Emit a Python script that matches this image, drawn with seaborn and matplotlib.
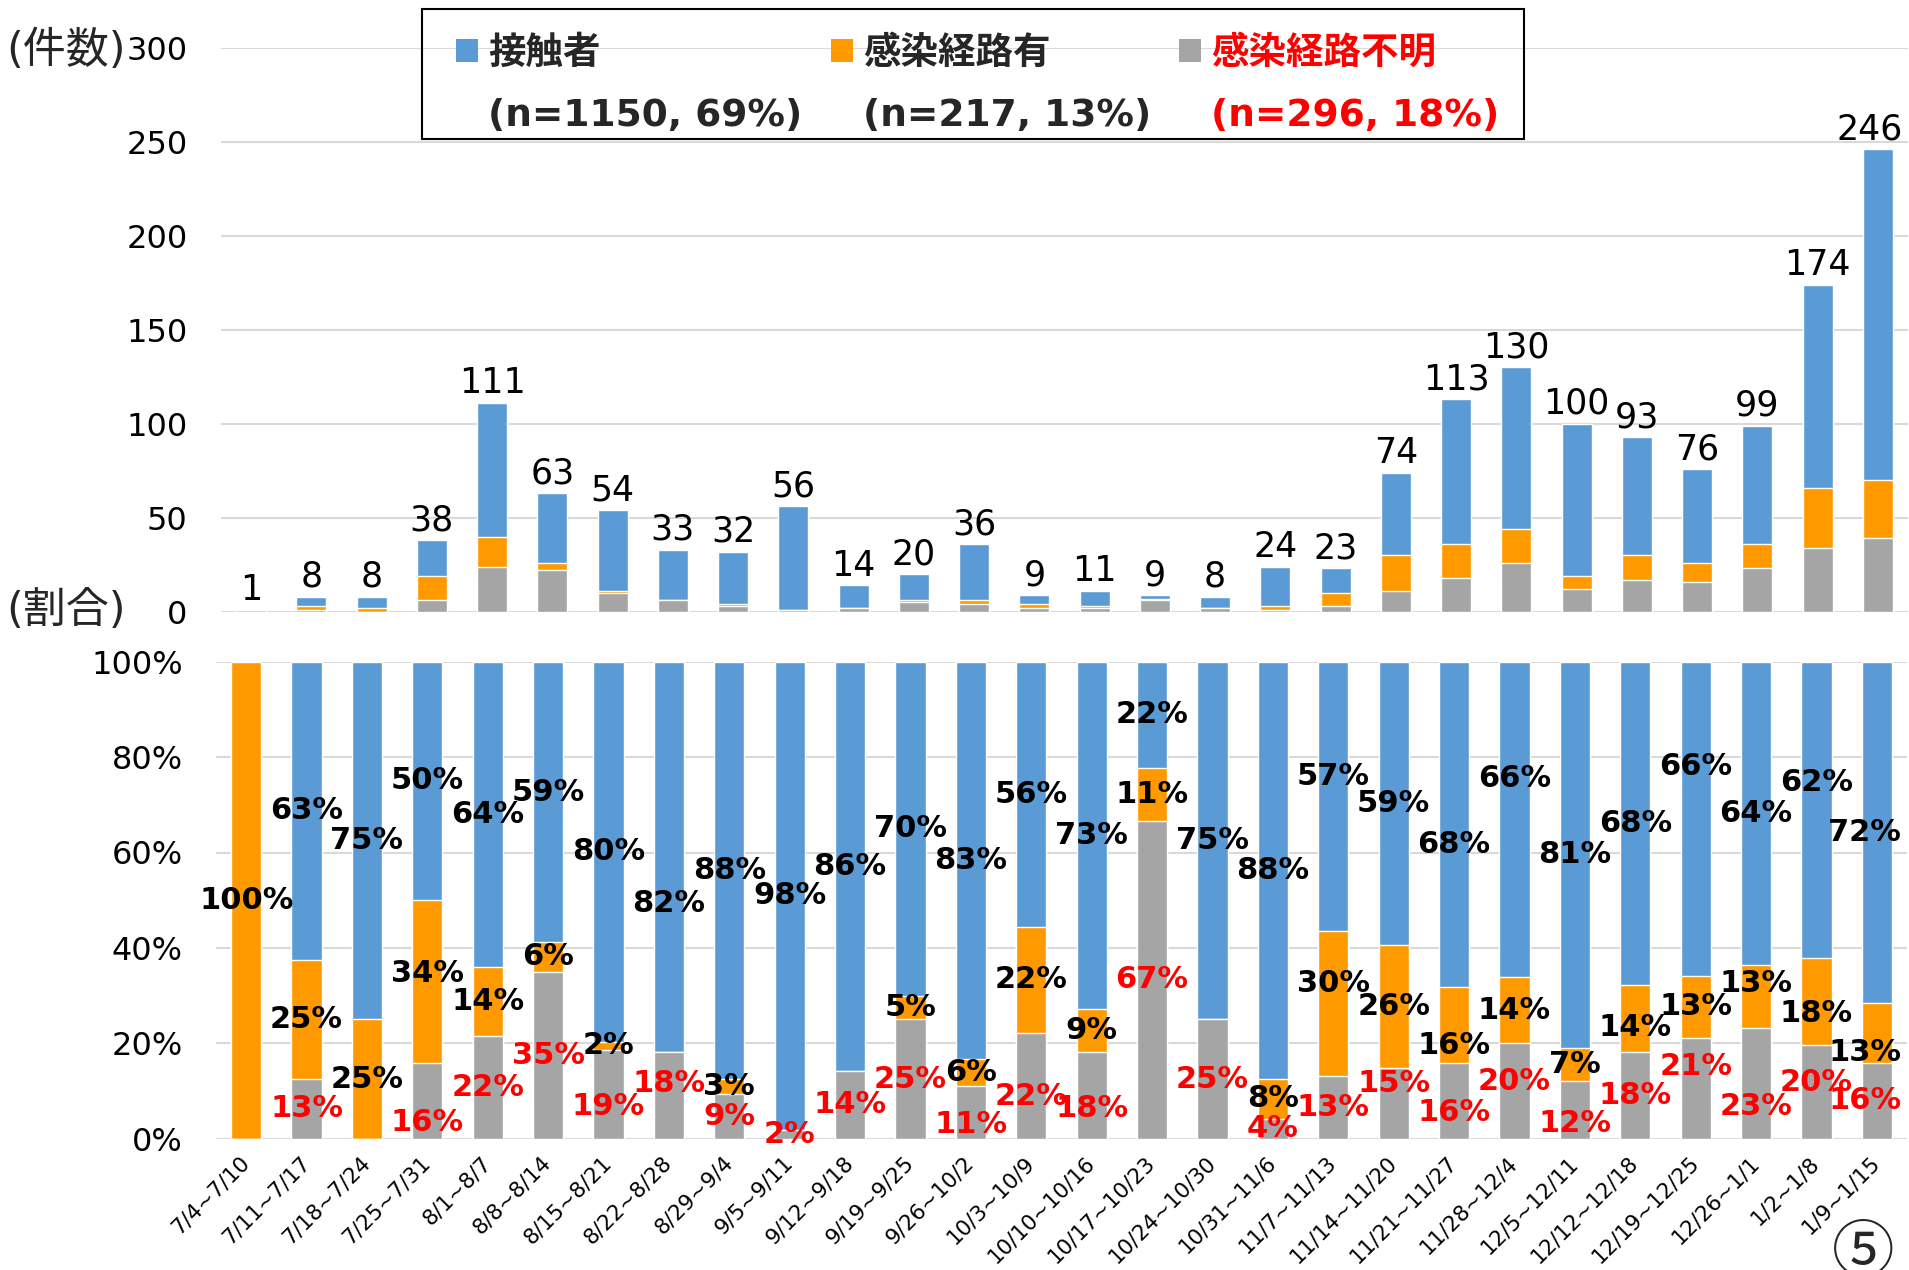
import numpy as np
import pandas as pd
import matplotlib
matplotlib.use("Agg")
import matplotlib.pyplot as plt
import seaborn as sns
from matplotlib.patches import Patch, Rectangle
from matplotlib.ticker import PercentFormatter

# weekly counts by infection route
weeks = ["7/4~7/10", "7/11~7/17", "7/18~7/24", "7/25~7/31", "8/1~8/7", "8/8~8/14",
         "8/15~8/21", "8/22~8/28", "8/29~9/4", "9/5~9/11", "9/12~9/18", "9/19~9/25",
         "9/26~10/2", "10/3~10/9", "10/10~10/16", "10/17~10/23", "10/24~10/30",
         "10/31~11/6", "11/7~11/13", "11/14~11/20", "11/21~11/27", "11/28~12/4",
         "12/5~12/11", "12/12~12/18", "12/19~12/25", "12/26~1/1", "1/2~1/8", "1/9~1/15"]
contact = [0, 5, 6, 19, 71, 37, 43, 27, 28, 55, 12, 14, 30, 5, 8, 2, 6, 21, 13, 44,
           77, 86, 81, 63, 50, 63, 108, 176]
route = [1, 2, 2, 13, 16, 4, 1, 0, 1, 0, 0, 1, 2, 2, 1, 1, 0, 2, 7, 19,
         18, 18, 7, 13, 10, 13, 32, 31]
unknown = [0, 1, 0, 6, 24, 22, 10, 6, 3, 1, 2, 5, 4, 2, 2, 6, 2, 1, 3, 11,
           18, 26, 12, 17, 16, 23, 34, 39]
series = ["接触者", "感染経路有", "感染経路不明"]

blue, orange, gray = "#5B9BD5", "#FF9900", "#A5A5A5"
grid_c = "#D9D9D9"

# hand-moved share labels in the original (week index -> shift in % points)
nudge = {
    "contact": {5: 2, 7: -9.7, 18: 4.2, 20: -4.3, 21: 8.6, 24: 10.9, 26: 5.8},
    "route": {3: 1.7, 18: 4.2, 20: -4.4, 23: -2, 25: 2.7, 26: -2.5, 27: -4},
    "unknown": {3: -4.4, 6: -2.5, 7: 2.4, 12: -2.5, 13: -2.2, 14: -2.7, 19: 4.1,
                20: -2.4, 21: 1.9, 22: -2.9, 24: 4.7, 25: -4.8, 26: 2.1},
}

sns.set_theme(style="white")
plt.rcParams["font.family"] = ["DejaVu Sans", "Noto Sans CJK JP"]

df = pd.DataFrame({"week": weeks, "contact": contact, "route": route, "unknown": unknown})
df["total"] = df.contact + df.route + df.unknown
df["lower"] = df.route + df.unknown
sh = df[["contact", "route", "unknown"]].div(df.total, axis=0)
sh["week"] = df.week
sh["all"] = sh.contact + sh.route + sh.unknown
sh["lower"] = sh.route + sh.unknown

W, H = 1909, 1270
fig = plt.figure(figsize=(W / 100, H / 100), dpi=100)
ax1 = fig.add_axes([221 / W, 1 - 611.7 / H, (1908 - 221) / W, (611.7 - 47.7) / H])
ax2 = fig.add_axes([216 / W, 1 - 1138.7 / H, (1907 - 216) / W, (1138.7 - 661.7) / H])
last = len(weeks) - 1

# ---- top: counts
for col, c in [("total", blue), ("lower", orange), ("unknown", gray)]:
    sns.barplot(data=df, x="week", y=col, color=c, width=0.5, saturation=1,
                errorbar=None, ax=ax1)
tot_labels = ax1.bar_label(ax1.containers[0], labels=[str(v) for v in df.total],
                           padding=2, fontsize=25, color="black")
tot_labels[last].xyann = (-6, 2)   # kept inside the chart area
ax1.set_xlim(-0.5, len(weeks) - 0.5)
ax1.set_ylim(0, 300)
ax1.set_yticks(range(0, 301, 50))
ax1.set_xticks([])
ax1.set_xlabel("")
ax1.set_ylabel("")
ax1.yaxis.grid(True, color=grid_c, linewidth=1.5)
ax1.set_axisbelow(True)
ax1.tick_params(axis="y", length=0, pad=24, labelsize=23, labelcolor="black")
for s in ax1.spines.values():
    s.set_visible(False)

# ---- bottom: shares
for col, c in [("all", blue), ("lower", orange), ("unknown", gray)]:
    sns.barplot(data=sh, x="week", y=col, color=c, width=0.5, saturation=1,
                errorbar=None, ax=ax2)
for i in range(len(weeks)):
    u, r, k = sh.unknown[i], sh.route[i], sh.contact[i]
    parts = [("unknown", u, u / 2, "red"), ("route", r, u + r / 2, "black"),
             ("contact", k, u + r + k / 2, "black")]
    xi = i - 0.2 if i == last else i
    for key, val, mid, tc in parts:
        if val > 0:
            y = mid + nudge[key].get(i, 0) / 100
            ax2.text(xi, y, f"{int(np.floor(val * 100 + 0.5))}%", ha="center", va="center",
                     fontsize=22, fontweight="bold", color=tc)
ax2.set_xlim(-0.5, len(weeks) - 0.5)
ax2.set_ylim(0, 1)
ax2.set_yticks(np.linspace(0, 1, 6))
ax2.yaxis.set_major_formatter(PercentFormatter(1.0, decimals=0))
ax2.set_xticks(range(len(weeks)))
ax2.set_xticklabels(weeks, rotation=45, ha="right", va="center", rotation_mode="anchor",
                    fontsize=15.5)
ax2.set_xlabel("")
ax2.set_ylabel("")
ax2.yaxis.grid(True, color=grid_c, linewidth=1.5)
ax2.set_axisbelow(True)
ax2.tick_params(axis="y", length=0, pad=24, labelsize=23, labelcolor="black")
ax2.tick_params(axis="x", length=0, pad=15, labelcolor="black")
for s in ax2.spines.values():
    s.set_visible(False)

# ---- legend with n and share per series, in a plain box
sums = [df.contact.sum(), df.route.sum(), df.unknown.sum()]
grand = sum(sums)
blank = Patch(facecolor="none", edgecolor="none")
handles, labels = [], []
for name, c, n in zip(series, [blue, orange, gray], sums):
    handles += [Patch(facecolor=c, edgecolor="none"), blank]
    labels += [name, f"(n={n}, {round(n / grand * 100)}%)"]
leg = fig.legend(handles, labels, ncol=3, loc="upper left",
                 bbox_to_anchor=(439 / W, 1 - 19 / H), frameon=False,
                 prop={"weight": "bold", "size": 27},
                 handlelength=0.59, handleheight=0.59, handletextpad=0.27,
                 columnspacing=0.75, borderpad=0.45, labelspacing=0.7, borderaxespad=0)
for t in leg.get_texts()[4:]:
    t.set_color("red")
fig.add_artist(Rectangle((421.7 / W, 1 - 139 / H), (1524 - 421.7) / W, 130 / H,
                         transform=fig.transFigure, fill=False, edgecolor="black",
                         linewidth=1.5))

fig.text(6 / W, 1 - 51 / H, "(件数)", fontsize=31, ha="left", va="center")
fig.text(6 / W, 1 - 611 / H, "(割合)", fontsize=31, ha="left", va="center")
fig.text(1863 / W, 1 - 1254 / H, "⑤", fontsize=45, ha="center", va="center",
         family=["Noto Sans CJK JP", "DejaVu Sans"])

fig.savefig("out.png", dpi=100)
